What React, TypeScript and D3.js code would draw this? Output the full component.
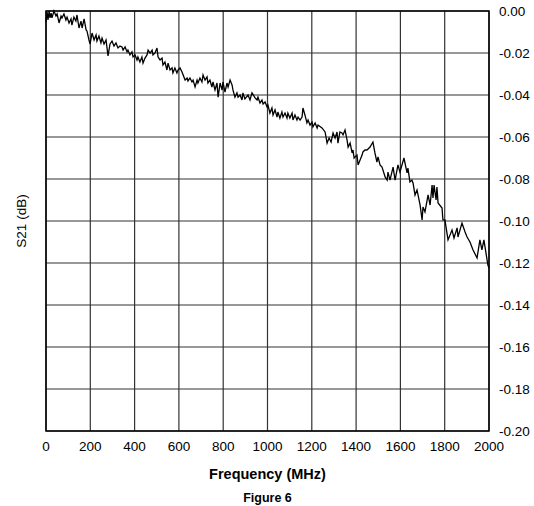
import React from "react";
import * as d3 from "d3";

const freqMHz: number[] = [
  0, 5, 9, 14, 18, 23, 27, 36, 45, 50, 59, 68, 72, 81, 90, 95, 104, 113, 117, 126, 135, 140, 149, 158, 163, 172, 181, 185, 194, 199,
  208, 217, 226, 230, 239, 248, 253, 262, 271, 280, 289, 298, 307, 316,
  325, 334, 343, 348, 357, 366, 370, 379, 388, 393, 402, 411, 415, 424, 433, 438, 447, 456, 461, 470, 479, 483, 492, 501, 506, 515,
  524, 528, 537, 546, 551, 560, 569, 573, 582, 591, 596, 605, 614,
  628, 637, 641, 650, 659, 664, 673, 682, 686, 695, 704, 709, 718, 727, 731, 740, 749, 754, 763, 772, 777, 786, 795, 799, 808, 817,
  822, 831, 840, 844, 853, 862, 867, 876, 885, 889, 898, 912, 921, 930,
  944, 953, 957, 966, 975, 980, 989, 998, 1002, 1011, 1020, 1025, 1034, 1043, 1047, 1056, 1065, 1070, 1079, 1088, 1092, 1101, 1111,
  1115, 1124, 1133, 1138, 1147, 1156, 1160, 1169, 1178, 1183, 1192, 1201, 1205, 1215, 1224, 1228, 1246,
  1260, 1269, 1278, 1287, 1296, 1305, 1314, 1318, 1327, 1336, 1341, 1350, 1359, 1364, 1373, 1382, 1386, 1391, 1404, 1409, 1418, 1427,
  1431, 1440, 1449, 1463, 1476, 1485, 1494, 1499, 1508, 1517, 1531, 1540, 1544, 1553, 1567, 1576, 1589, 1598,
  1616, 1630, 1634, 1643, 1652, 1657, 1666, 1675, 1689, 1698, 1702, 1711, 1725, 1734, 1743, 1747, 1752, 1761, 1765, 1770, 1788, 1792,
  1801, 1815, 1833, 1842, 1856, 1860, 1878, 1892, 1901, 1914, 1928, 1946, 1959, 1968, 1977, 1995, 2000,
];

const s21dB: number[] = [
  -0.0052, -0.0005, -0.0043, 0.0, -0.0033, -0.001, -0.0033, 0.0, -0.0024, -0.0014, -0.0057, -0.0024, -0.0033, -0.0014, -0.0043, -0.0029,
  -0.0057, -0.0038, -0.0067, -0.0029, -0.0048, -0.0019, -0.0081, -0.0048, -0.0081, -0.0038, -0.009, -0.0095, -0.0138, -0.0157,
  -0.0105, -0.0138, -0.0114, -0.0143, -0.0119, -0.0152, -0.0129, -0.0157, -0.0138, -0.0214, -0.0157, -0.0143, -0.0167, -0.0152,
  -0.0176, -0.0167, -0.0171, -0.0186, -0.0171, -0.0195, -0.0186, -0.0209, -0.0195, -0.0219, -0.0209, -0.0233, -0.0219, -0.0243,
  -0.0219, -0.0248, -0.0224, -0.0209, -0.0186, -0.02, -0.0186, -0.0209, -0.02, -0.0176, -0.0219, -0.0233,
  -0.0224, -0.0257, -0.0243, -0.0281, -0.0248, -0.0281, -0.0271, -0.0295, -0.0271, -0.0295, -0.0281, -0.0271, -0.029,
  -0.0329, -0.0319, -0.0333, -0.0319, -0.0338, -0.0329, -0.0362, -0.0329, -0.0343, -0.0319, -0.0338, -0.0305, -0.0329, -0.0314,
  -0.0343, -0.0329, -0.0362, -0.0338, -0.0376, -0.0343, -0.041, -0.0343, -0.0376, -0.0338, -0.0386, -0.0343,
  -0.0362, -0.0329, -0.0352, -0.0376, -0.041, -0.039, -0.041, -0.04, -0.0424, -0.039, -0.0419, -0.04, -0.0424, -0.039,
  -0.0414, -0.0424, -0.041, -0.0438, -0.0424, -0.0443, -0.0433, -0.0457, -0.0448, -0.0486, -0.0462, -0.0495, -0.0471, -0.0505,
  -0.0481, -0.051, -0.0481, -0.0505, -0.0486, -0.051, -0.0486, -0.051, -0.0486,
  -0.0519, -0.0495, -0.0519, -0.0505, -0.0519, -0.0505, -0.0462, -0.0495, -0.0533, -0.0519, -0.0543, -0.0529, -0.0552, -0.0533,
  -0.0557, -0.0543, -0.0557,
  -0.0576, -0.0629, -0.0605, -0.0624, -0.0581, -0.0605, -0.0576, -0.0629, -0.0576, -0.0581, -0.059, -0.0567, -0.0614, -0.0648,
  -0.0629, -0.0676, -0.0662, -0.07, -0.0686, -0.0733, -0.071, -0.0686,
  -0.0671, -0.0662, -0.0662, -0.0648, -0.0624, -0.0676, -0.0719, -0.0695, -0.0733, -0.0743, -0.079, -0.0805, -0.0767, -0.0805,
  -0.0743, -0.0805, -0.0733, -0.0767,
  -0.07, -0.0771, -0.0748, -0.0814, -0.0805, -0.0819, -0.0876, -0.0852, -0.0924, -0.0995, -0.0933, -0.0957, -0.0876, -0.0924,
  -0.0829, -0.089, -0.0829, -0.09, -0.0838, -0.0914, -0.0938, -0.0995,
  -0.0995, -0.109, -0.1043, -0.1081, -0.1033, -0.1076, -0.101, -0.1052, -0.1076, -0.11, -0.1138, -0.1176, -0.109, -0.1138,
  -0.109, -0.121, -0.1224,
];

const xTicks: number[] = [0, 200, 400, 600, 800, 1000, 1200, 1400, 1600, 1800, 2000];
const yTicks: number[] = [0, -0.02, -0.04, -0.06, -0.08, -0.1, -0.12, -0.14, -0.16, -0.18, -0.2];

const xTitle = "Frequency (MHz)";
const yTitle = "S21 (dB)";
const caption = "Figure 6";

export default function App() {
  const W = 534;
  const H = 506;
  const left = 46;
  const right = 489;
  const top = 11;
  const bottom = 431;

  const x = d3.scaleLinear().domain([0, 2000]).range([left, right]);
  const y = d3.scaleLinear().domain([-0.2, 0]).range([bottom, top]);

  const pts: [number, number][] = freqMHz.map((f, i) => [f, s21dB[i]]);
  const line = d3
    .line<[number, number]>()
    .x((d) => x(d[0]))
    .y((d) => y(d[1]));

  const font = "'Liberation Sans', Arial, Helvetica, sans-serif";

  return (
    <svg
      width={W}
      height={H}
      style={{ position: "absolute", left: 0, top: 0, background: "#fff" }}
      fontFamily={font}
    >
      <rect x={0} y={0} width={W} height={H} fill="#fff" />
      {xTicks.map((t) => (
        <line key={"gx" + t} x1={x(t)} x2={x(t)} y1={top} y2={bottom} stroke="#333" strokeWidth={1.2} />
      ))}
      {yTicks.map((t) => (
        <line key={"gy" + t} x1={left} x2={right} y1={y(t)} y2={y(t)} stroke="#333" strokeWidth={1.2} />
      ))}
      <rect x={left} y={top} width={right - left} height={bottom - top} fill="none" stroke="#000" strokeWidth={1.5} />
      <path d={line(pts) || ""} fill="none" stroke="#000" strokeWidth={1.3} strokeLinejoin="miter" />
      {xTicks.map((t) => (
        <text key={"tx" + t} x={x(t)} y={451} textAnchor="middle" fontSize={13.5} fill="#000">
          {t}
        </text>
      ))}
      {yTicks.map((t) => (
        <text key={"ty" + t} x={499} y={y(t) + 5} textAnchor="start" fontSize={13.5} fill="#000">
          {d3.format(".2f")(t).replace("−", "-")}
        </text>
      ))}
      <text
        x={0}
        y={0}
        transform={`translate(26, ${(top + bottom) / 2}) rotate(-90)`}
        textAnchor="middle"
        fontSize={13.5}
        fill="#000"
      >
        {yTitle}
      </text>
      <text x={(left + right) / 2} y={479} textAnchor="middle" fontSize={14.5} fontWeight="bold" fill="#000">
        {xTitle}
      </text>
      <text x={(left + right) / 2} y={502} textAnchor="middle" fontSize={12.5} fontWeight="bold" fill="#000">
        {caption}
      </text>
    </svg>
  );
}
